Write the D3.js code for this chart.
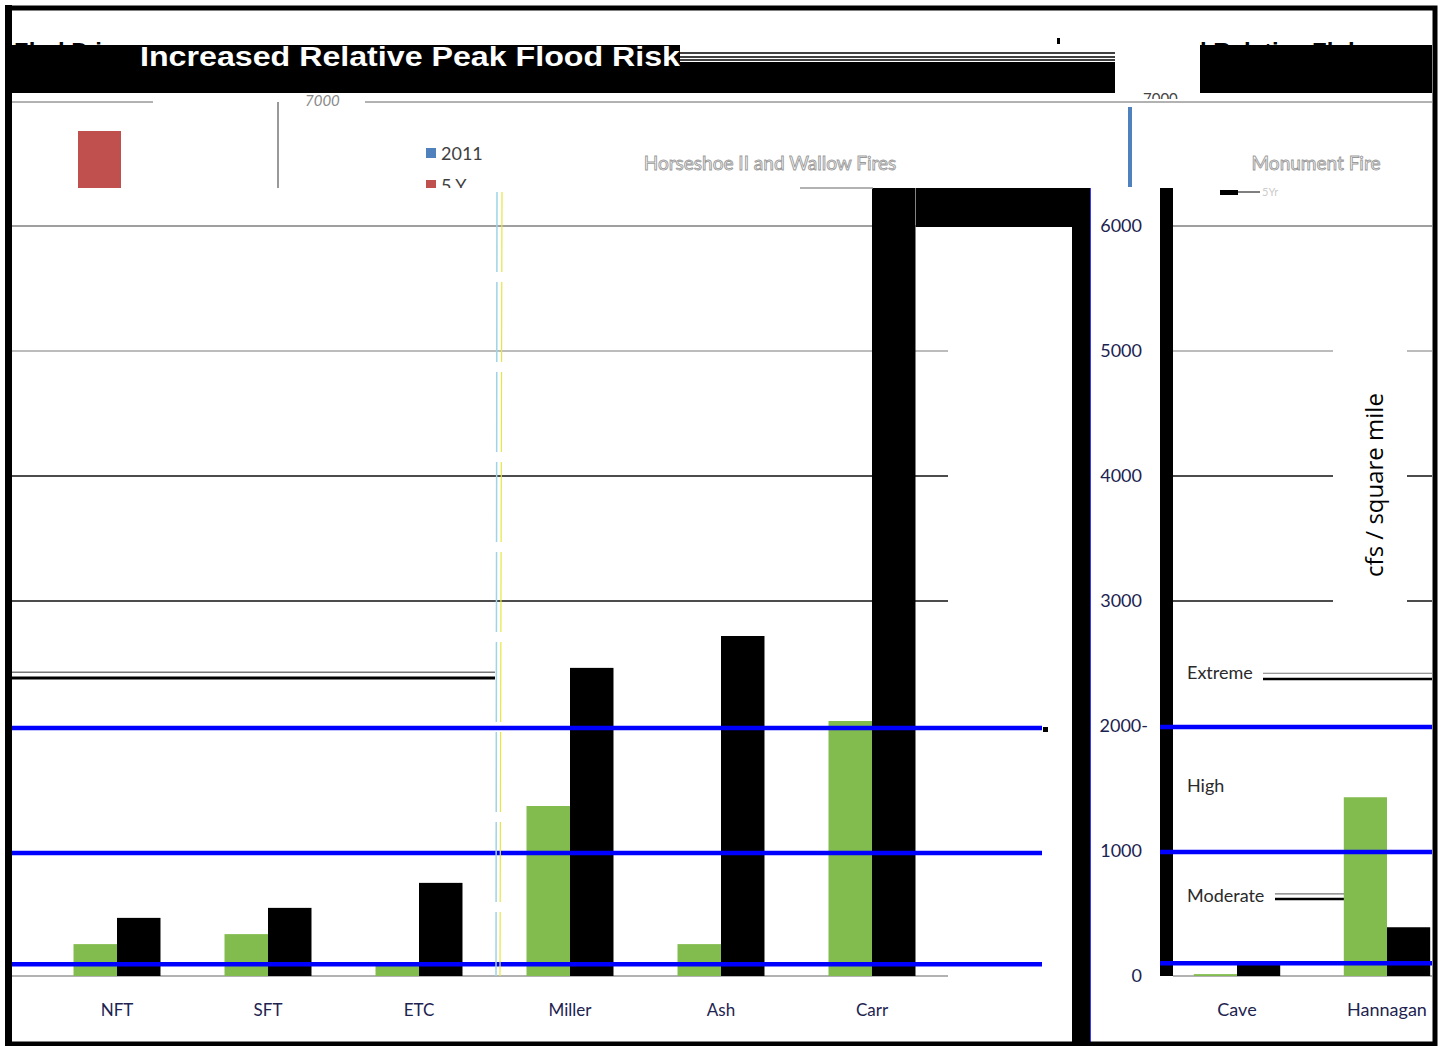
<!DOCTYPE html>
<html><head><meta charset="utf-8">
<script src="https://cdn.jsdelivr.net/npm/d3@7"></script>
<style>html,body{margin:0;padding:0;background:#fff;}svg{display:block;}</style>
</head><body>
<svg id="chart" width="1442" height="1046"></svg>
<script>
// ---- data ----
const leftCategories = ["NFT", "SFT", "ETC", "Miller", "Ash", "Carr"];
const leftGreen = [255, 335, 95, 1360, 255, 2040];
const leftBlack = [465, 545, 745, 2465, 2720, 6320];
const rightCategories = ["Cave", "Hannagan"];
const rightGreen = [15, 1430];
const rightBlack = [90, 390];
const yTickValues = [0, 1000, 2000, 3000, 4000, 5000, 6000];
const yTickLabels = ["0", "1000", "2000-", "3000", "4000", "5000", "6000"];
const gridValues = [3000, 4000, 5000, 6000];
const blueThresholds = [2000, 1000, 110];
const riskLabels = ["Extreme", "High", "Moderate"];
const riskLabelValues = [2430, 1530, 650];
const extremeLines = [2430, 2385];
const moderateLines = [665, 625];
const legendLabels = ["2011", "5 Y"];
const panelTitles = ["Horseshoe II and Wallow Fires", "Monument Fire"];
const chartTitle = "Increased Relative Peak Flood Risk";
const yAxisTitle = "cfs / square mile";

const svg = d3.select("#chart");
const y = d3.scaleLinear().domain([0, 7000]).range([976, 101]);
const xL = d3.scaleBand().domain(leftCategories).range([41.5, 947.5]);
const xR = d3.scaleBand().domain(rightCategories).range([1162, 1462]);
const bwL = xL.step() * 0.288, bwR = xR.step() * 0.288;
const navy = "#1c2350";

const defs = svg.append("defs");
defs.append("clipPath").attr("id", "clipL").append("rect").attr("x", 12).attr("y", 188).attr("width", 1060).attr("height", 790);
defs.append("clipPath").attr("id", "clipR").append("rect").attr("x", 1160).attr("y", 188).attr("width", 272).attr("height", 790);
defs.append("clipPath").attr("id", "clipLeg").append("rect").attr("x", 400).attr("y", 100).attr("width", 200).attr("height", 88);
defs.append("clipPath").attr("id", "clipTop").append("rect").attr("x", 1100).attr("y", 93).attr("width", 100).attr("height", 6);

// ---- left panel ----
const L = svg.append("g").attr("clip-path", "url(#clipL)");
L.selectAll("line.grid").data(gridValues).join("line")
  .attr("x1", 12).attr("x2", 948).attr("y1", d => y(d)).attr("y2", d => y(d))
  .attr("stroke", d => d >= 5000 ? (d === 6000 ? "#7f7f7f" : "#a6a6a6") : "#111").attr("stroke-width", 1.5);
L.selectAll("line.ext").data(extremeLines).join("line")
  .attr("x1", 12).attr("x2", 495).attr("y1", d => y(d)).attr("y2", d => y(d))
  .attr("stroke", (d, i) => i === 0 ? "#777" : "#000").attr("stroke-width", (d, i) => i === 0 ? 1.5 : 3);
L.append("line").attr("x1", 12).attr("x2", 948).attr("y1", y(0)).attr("y2", y(0)).attr("stroke", "#999").attr("stroke-width", 1.5);
L.selectAll("rect.g").data(leftCategories).join("rect")
  .attr("x", d => xL(d) + xL.step() / 2 - bwL).attr("width", bwL)
  .attr("y", (d, i) => y(leftGreen[i])).attr("height", (d, i) => y(0) - y(leftGreen[i]))
  .attr("fill", "#82bb4e");
L.selectAll("rect.b").data(leftCategories).join("rect")
  .attr("x", d => xL(d) + xL.step() / 2).attr("width", bwL)
  .attr("y", (d, i) => y(leftBlack[i])).attr("height", (d, i) => y(0) - y(leftBlack[i]))
  .attr("fill", "#000");
// glitch frame around Carr
svg.append("rect").attr("x", 916).attr("y", 188).attr("width", 174).attr("height", 39).attr("fill", "#000");
svg.append("rect").attr("x", 1072).attr("y", 188).attr("width", 18).attr("height", 858).attr("fill", "#000");
svg.append("line").attr("x1", 1090.5).attr("x2", 1090.5).attr("y1", 188).attr("y2", 1046).attr("stroke", "#3a3aff").attr("stroke-width", 1);
L.selectAll("line.blue").data(blueThresholds).join("line")
  .attr("x1", 12).attr("x2", 1042).attr("y1", d => y(d) + 2).attr("y2", d => y(d) + 2)
  .attr("stroke", "#0000ff").attr("stroke-width", 4.5);
svg.append("rect").attr("x", 1043).attr("y", 727).attr("width", 5).attr("height", 5).attr("fill", "#000");
// dashed separator
svg.append("line").attr("x1", 497).attr("x2", 496).attr("y1", 192).attr("y2", 976)
  .attr("stroke", "#9fd3e6").attr("stroke-width", 1.5).attr("stroke-dasharray", "80,10");
svg.append("line").attr("x1", 502).attr("x2", 500).attr("y1", 192).attr("y2", 976)
  .attr("stroke", "#e6e640").attr("stroke-width", 1.2).attr("stroke-dasharray", "80,10");

svg.append("g").attr("transform", `translate(0,${y(0)})`)
  .call(d3.axisBottom(xL).tickSize(0).tickPadding(28))
  .call(g => g.select(".domain").remove())
  .selectAll("text").attr("font-family", "Lato, 'Open Sans', sans-serif").attr("font-size", 17).attr("fill", navy);

// ---- right panel ----
const R = svg.append("g").attr("clip-path", "url(#clipR)");
R.selectAll("line.grid").data(gridValues).join("line")
  .attr("x1", 1173).attr("x2", 1432).attr("y1", d => y(d)).attr("y2", d => y(d))
  .attr("stroke", d => d >= 5000 ? (d === 6000 ? "#7f7f7f" : "#a6a6a6") : "#111").attr("stroke-width", 1.5);
R.append("rect").attr("x", 1333).attr("y", 315).attr("width", 74).attr("height", 290).attr("fill", "#fff");
R.selectAll("line.ext").data(extremeLines).join("line")
  .attr("x1", 1263).attr("x2", 1432).attr("y1", d => y(d) + 1).attr("y2", d => y(d) + 1)
  .attr("stroke", (d, i) => i === 0 ? "#777" : "#000").attr("stroke-width", (d, i) => i === 0 ? 1.2 : 2.5);
R.selectAll("line.mod").data(moderateLines).join("line")
  .attr("x1", 1275).attr("x2", 1344).attr("y1", d => y(d) + 1).attr("y2", d => y(d) + 1)
  .attr("stroke", (d, i) => i === 0 ? "#777" : "#000").attr("stroke-width", (d, i) => i === 0 ? 1.2 : 2.5);
R.append("line").attr("x1", 1173).attr("x2", 1432).attr("y1", y(0)).attr("y2", y(0)).attr("stroke", "#999").attr("stroke-width", 1.5);
R.selectAll("rect.g").data(rightCategories).join("rect")
  .attr("x", d => xR(d) + xR.step() / 2 - bwR).attr("width", bwR)
  .attr("y", (d, i) => y(rightGreen[i])).attr("height", (d, i) => y(0) - y(rightGreen[i]))
  .attr("fill", "#82bb4e");
R.selectAll("rect.b").data(rightCategories).join("rect")
  .attr("x", d => xR(d) + xR.step() / 2).attr("width", bwR)
  .attr("y", (d, i) => y(rightBlack[i])).attr("height", (d, i) => y(0) - y(rightBlack[i]))
  .attr("fill", "#000");
R.append("rect").attr("x", 1160).attr("y", 188).attr("width", 13).attr("height", 788).attr("fill", "#000");
R.selectAll("line.blue").data(blueThresholds).join("line")
  .attr("x1", 1160).attr("x2", 1432).attr("y1", d => y(d) + 1).attr("y2", d => y(d) + 1)
  .attr("stroke", "#0000ff").attr("stroke-width", 4.5);
R.selectAll("text.risk").data(riskLabels).join("text")
  .attr("x", 1187).attr("y", (d, i) => y(riskLabelValues[i]) + 7)
  .attr("font-family", "Lato, 'Open Sans', sans-serif").attr("font-size", 18).attr("fill", "#2a2a2a").text(d => d);
R.append("text").attr("transform", "translate(1383,485) rotate(-90)").attr("text-anchor", "middle")
  .attr("font-family", "'Open Sans', Lato, sans-serif").attr("font-size", 24).attr("fill", "#000").text(yAxisTitle);

svg.append("g").attr("transform", "translate(1142,0)")
  .call(d3.axisLeft(y).tickValues(yTickValues).tickFormat((d, i) => yTickLabels[i]).tickSize(0).tickPadding(0))
  .call(g => g.select(".domain").remove())
  .selectAll("text").attr("font-family", "Lato, 'Open Sans', sans-serif").attr("font-size", 18).attr("fill", navy)
  .attr("x", (d, i) => yTickLabels[i].endsWith("-") ? 6 : 0);
svg.append("g").attr("transform", `translate(0,${y(0)})`)
  .call(d3.axisBottom(xR).tickSize(0).tickPadding(27))
  .call(g => g.select(".domain").remove())
  .selectAll("text").attr("font-family", "Lato, 'Open Sans', sans-serif").attr("font-size", 18).attr("fill", navy);

// ---- header region ----
svg.append("line").attr("x1", 12).attr("x2", 153).attr("y1", 102).attr("y2", 102).attr("stroke", "#999").attr("stroke-width", 1.5);
svg.append("line").attr("x1", 365).attr("x2", 1432).attr("y1", 102).attr("y2", 102).attr("stroke", "#999").attr("stroke-width", 1.5);
svg.append("line").attr("x1", 278).attr("x2", 278).attr("y1", 102).attr("y2", 188).attr("stroke", "#777").attr("stroke-width", 1.5);
svg.append("line").attr("x1", 800).attr("x2", 873).attr("y1", 188).attr("y2", 188).attr("stroke", "#999").attr("stroke-width", 1.5);
svg.append("text").attr("x", 305).attr("y", 106).attr("font-family", "Lato, sans-serif").attr("font-size", 15).attr("font-style", "italic").attr("fill", "#888").text("7000");
svg.append("text").attr("x", 1143).attr("y", 104).attr("font-family", "Lato, sans-serif").attr("font-size", 15).attr("fill", "#444")
  .attr("clip-path", "url(#clipTop)").text("7000");
svg.append("rect").attr("x", 78).attr("y", 131).attr("width", 43).attr("height", 57).attr("fill", "#c0504d");
svg.append("rect").attr("x", 1128).attr("y", 107).attr("width", 4).attr("height", 80).attr("fill", "#4f81bd");

const leg = svg.append("g").attr("clip-path", "url(#clipLeg)");
leg.selectAll("rect").data(legendLabels).join("rect")
  .attr("x", 426).attr("y", (d, i) => 148 + i * 32).attr("width", 10).attr("height", 10)
  .attr("fill", (d, i) => i === 0 ? "#4f81bd" : "#c0504d");
leg.selectAll("text").data(legendLabels).join("text")
  .attr("x", 441).attr("y", (d, i) => 160 + i * 32)
  .attr("font-family", "Lato, sans-serif").attr("font-size", 18).attr("fill", "#404040").text(d => d);

svg.selectAll("text.pt").data(panelTitles).join("text")
  .attr("x", (d, i) => i === 0 ? 770 : 1316).attr("y", 170).attr("text-anchor", "middle")
  .attr("font-family", "Lato, sans-serif").attr("font-size", 19).attr("fill", "#fdfdfd")
  .attr("stroke", "#9a9a9a").attr("stroke-width", 0.9).text(d => d);

// mini legend in right panel
svg.append("rect").attr("x", 1220).attr("y", 190).attr("width", 18).attr("height", 5).attr("fill", "#000");
svg.append("line").attr("x1", 1238).attr("x2", 1260).attr("y1", 192).attr("y2", 192).attr("stroke", "#000");
svg.append("text").attr("x", 1262).attr("y", 196).attr("font-family", "Lato, sans-serif").attr("font-size", 11).attr("fill", "#ccc").text("5Yr");

// title band
svg.append("rect").attr("x", 12).attr("y", 45).attr("width", 668).attr("height", 48).attr("fill", "#000");
svg.append("rect").attr("x", 680).attr("y", 62).attr("width", 435).attr("height", 31).attr("fill", "#000");
[53, 57, 60].forEach(v => svg.append("line").attr("x1", 680).attr("x2", 1115).attr("y1", v).attr("y2", v).attr("stroke", "#000").attr("stroke-width", 1.5));
svg.append("rect").attr("x", 1200).attr("y", 45).attr("width", 232).attr("height", 48).attr("fill", "#000");
svg.append("text").attr("x", 140).attr("y", 66).attr("textLength", 540).attr("lengthAdjust", "spacingAndGlyphs")
  .attr("font-family", "'Liberation Sans', Arial, sans-serif").attr("font-weight", "bold").attr("font-size", 27)
  .attr("fill", "#fff").text(chartTitle);
svg.append("text").attr("x", 14).attr("y", 60).attr("font-family", "'Liberation Sans', sans-serif").attr("font-weight", "bold").attr("font-size", 24)
  .attr("fill", "#000").text("Zh   d D  i");
svg.append("text").attr("x", 1200).attr("y", 60).attr("font-family", "'Liberation Sans', sans-serif").attr("font-weight", "bold").attr("font-size", 24)
  .attr("fill", "#000").text("l Relative Fl  d");
svg.append("rect").attr("x", 1057).attr("y", 38).attr("width", 3).attr("height", 6).attr("fill", "#000");

// outer frame
svg.append("rect").attr("x", 8).attr("y", 8).attr("width", 1427).attr("height", 1036)
  .attr("fill", "none").attr("stroke", "#000").attr("stroke-width", 5);
svg.append("rect").attr("x", 5).attr("y", 5).attr("width", 7).attr("height", 1041).attr("fill", "#000");
</script>
</body></html>
